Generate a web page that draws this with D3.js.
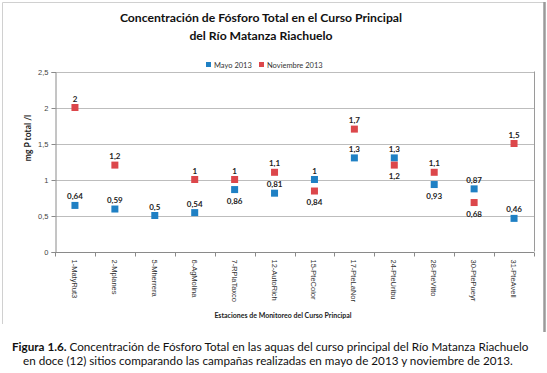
<!DOCTYPE html>
<html>
<head>
<meta charset="utf-8">
<script src="https://cdn.jsdelivr.net/npm/d3@7"></script>
<style>
  body { margin: 0; background: #fff; }
</style>
</head>
<body>
<svg id="chart" width="547" height="373"></svg>
<script>
/* ── Fósforo total, Matanza Riachuelo: mayo vs noviembre 2013 ── */

const stations = ['1-MatyRut3', '2-Mplanes', '5-Mherrera', '6-AgMolina', '7-RPlaTaxco',
  '12-AutoRich', '15-PteColor', '17-PteLaNor', '24-PteUribu', '28-PteVitto',
  '30-PtePueyr', '31-PteAvell'];
const mayo = [0.64, 0.59, 0.5, 0.54, 0.86, 0.81, 1, 1.3, 1.3, 0.93, 0.87, 0.46];
const noviembre = [2, 1.2, null, 1, 1, 1.1, 0.84, 1.7, 1.2, 1.1, 0.68, 1.5];
const yTicks = [0, 0.5, 1, 1.5, 2, 2.5];
const seriesNames = ['Mayo 2013', 'Noviembre 2013'];

const BLUE = '#1f80c4';
const RED  = '#dc474b';
const SANS = 'Lato, "Open Sans", sans-serif';
const ARIAL = '"Liberation Sans", Arial, sans-serif';

const svg = d3.select('#chart');

// outer chart frame
svg.append('line').attr('x1', 2.5).attr('x2', 544).attr('y1', 2.5).attr('y2', 2.5)
  .attr('stroke', '#d0d0d0');
svg.append('line').attr('x1', 2.5).attr('x2', 2.5).attr('y1', 2.5).attr('y2', 324)
  .attr('stroke', '#d0d0d0');
svg.append('line').attr('x1', 544.5).attr('x2', 544.5).attr('y1', 2).attr('y2', 332)
  .attr('stroke', '#9a9a9a').attr('stroke-width', 2.5);

// title
['Concentración de Fósforo Total en el Curso Principal', 'del Río Matanza Riachuelo']
  .forEach((t, i) => {
    svg.append('text').attr('x', 261).attr('y', 22 + i * 18).attr('text-anchor', 'middle')
      .style('font-family', SANS).attr('font-size', 12.2).attr('font-weight', 'bold')
      .attr('fill', '#111').text(t);
  });

// legend
[[206, BLUE], [259, RED]].forEach(([lx, col], i) => {
  svg.append('rect').attr('x', lx).attr('y', 62).attr('width', 5).attr('height', 5).attr('fill', col);
  svg.append('text').attr('x', lx + 8).attr('y', 67.5).style('font-family', SANS)
    .attr('font-size', 7.5).attr('fill', '#333').text(seriesNames[i]);
});

// plot area
const plotL = 55, plotR = 534, plotT = 71.5, plotB = 251.5;
const x = d3.scaleBand().domain(stations).range([plotL, plotR]);
const y = d3.scaleLinear().domain([0, 2.5]).range([plotB, plotT]);

// grid lines
svg.append('g')
  .selectAll('line').data(yTicks.slice(1)).join('line')
  .attr('x1', plotL).attr('x2', plotR)
  .attr('y1', d => Math.round(y(d)) + 0.5).attr('y2', d => Math.round(y(d)) + 0.5)
  .attr('stroke', '#bdbdbd');
svg.append('line').attr('x1', plotR + 0.5).attr('x2', plotR + 0.5)
  .attr('y1', plotT).attr('y2', plotB).attr('stroke', '#9a9a9a');

// y axis
const yAxis = svg.append('g').attr('transform', `translate(${plotL + 0.5},0.5)`)
  .call(d3.axisLeft(y).tickValues(yTicks).tickSize(4).tickPadding(3)
    .tickFormat(d => String(d).replace('.', ',')));
yAxis.select('.domain').attr('stroke', '#8a8a8a');
yAxis.selectAll('.tick line').attr('stroke', '#8a8a8a');
yAxis.selectAll('.tick text').attr('font-size', 7.5).attr('fill', '#444')
  .style('font-family', ARIAL);

// x axis (ticks at band edges)
const xAxis = svg.append('g').attr('transform', `translate(0,${Math.round(plotB) + 0.5})`);
xAxis.append('line').attr('x1', plotL).attr('x2', plotR).attr('stroke', '#8a8a8a');
xAxis.selectAll('.edge').data(d3.range(stations.length + 1)).join('line')
  .attr('class', 'edge')
  .attr('x1', i => Math.round(plotL + i * x.bandwidth()) + 0.5)
  .attr('x2', i => Math.round(plotL + i * x.bandwidth()) + 0.5)
  .attr('y1', 0).attr('y2', 4).attr('stroke', '#8a8a8a');
xAxis.selectAll('.lbl').data(stations).join('text')
  .attr('class', 'lbl')
  .attr('transform', d => `translate(${x(d) + x.bandwidth() / 2 - 3},7) rotate(90)`)
  .attr('font-size', 7.5).attr('fill', '#333')
  .style('font-family', ARIAL)
  .text(d => d);

// axis titles
svg.append('text').attr('transform', 'translate(31,138) rotate(-90)')
  .attr('text-anchor', 'middle').style('font-family', SANS).attr('font-size', 8.5)
  .attr('font-weight', 'bold').attr('fill', '#222').text('mg P total /l');
svg.append('text').attr('x', 283).attr('y', 318).attr('text-anchor', 'middle')
  .style('font-family', SANS).attr('font-size', 7).attr('font-weight', 'bold')
  .attr('fill', '#222').text('Estaciones de Monitoreo del Curso Principal');

// label placement: indices whose value label sits below the marker
const belowMayo = [4, 9];
const belowNov = [6, 8, 10];

function drawSeries(values, color, below) {
  const pts = stations.map((s, i) => ({ s, v: values[i], i })).filter(d => d.v != null);
  const g = svg.append('g');
  g.selectAll('rect').data(pts).join('rect')
    .attr('x', d => x(d.s) + x.bandwidth() / 2 - 3.5)
    .attr('y', d => y(d.v) - 3.5)
    .attr('width', 7).attr('height', 7)
    .attr('fill', color);
  g.selectAll('text').data(pts).join('text')
    .attr('x', d => x(d.s) + x.bandwidth() / 2)
    .attr('y', d => below.includes(d.i) ? y(d.v) + 14 : y(d.v) - 6)
    .attr('text-anchor', 'middle')
    .style('font-family', SANS)
    .attr('font-size', 8).attr('font-weight', 'bold').attr('fill', '#222')
    .text(d => String(d.v).replace('.', ','));
}

drawSeries(mayo, BLUE, belowMayo);
drawSeries(noviembre, RED, belowNov);

// figure caption
const cap = svg.append('text').style('font-family', SANS).attr('font-size', 11.7).attr('fill', '#111');
cap.append('tspan').attr('x', 12).attr('y', 351).attr('font-weight', 'bold').text('Figura 1.6.');
cap.append('tspan').text(' Concentración de Fósforo Total en las aquas del curso principal del Río Matanza Riachuelo');
svg.append('text').attr('x', 23).attr('y', 365).style('font-family', SANS)
  .attr('font-size', 11.7).attr('fill', '#111')
  .text('en doce (12) sitios comparando las campañas realizadas en mayo de 2013 y noviembre de 2013.');
</script>
</body>
</html>
